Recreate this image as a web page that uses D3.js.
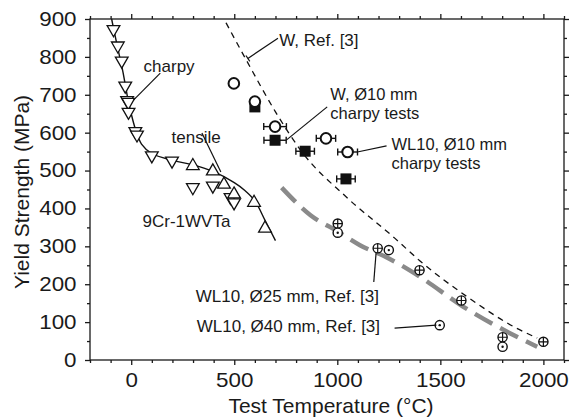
<!DOCTYPE html>
<html>
<head>
<meta charset="utf-8">
<script src="https://cdn.jsdelivr.net/npm/d3@7"></script>
<style>
  body { margin: 0; background: #fff; }
  svg { display: block; font-family: 'Liberation Sans', Arial, sans-serif; }
  .axis path, .axis line { stroke: #1a1a1a; stroke-width: 1.3; }
  .axis text { fill: #1a1a1a; font-size: 20px; }
  .note { fill: #1a1a1a; font-size: 17px; }
</style>
</head>
<body>
<svg id="chart"></svg>
<script>
// 9Cr-1WVTa, charpy (down triangles) and tensile (up triangles)
const charpy9Cr = [[-86, 870], [-65, 827], [-46, 787], [-29, 721], [-20, 683], [-14, 678],
  [-13, 652], [20, 601], [28, 592], [100, 537], [198, 523], [299, 453], [396, 457], [482, 427], [499, 413]];
const tensile9Cr = [[299, 515], [396, 501], [450, 466], [499, 440], [596, 418], [649, 350]];
const fit9Cr = [[-95, 900], [-80, 860], [-60, 810], [-40, 760], [-20, 700], [0, 650], [20, 610],
  [50, 570], [100, 545], [200, 527], [300, 515], [400, 497], [500, 468], [550, 448], [600, 420],
  [650, 368], [700, 315]];

// W, Ref. [3] (thin dashed)
const wRef = [[460, 890], [560, 790], [700, 655], [830, 548], [1040, 432], [1280, 321],
  [1400, 262], [1630, 167], [1870, 84], [1970, 58]];
// WL10 fit (thick grey dashed)
const wl10Fit = [[730, 455], [870, 382], [1000, 340], [1110, 303], [1250, 268], [1400, 220],
  [1610, 141], [1840, 70], [1970, 35]];

// charpy tests, [T, YS, half-width of error bar]
const wCharpy = [[600, 668, 0], [698, 580, 54], [844, 551, 45], [1042, 478, 45]];
const wl10Charpy = [[498, 730, 0], [600, 682, 0], [698, 616, 55], [945, 585, 47], [1050, 549, 48]];

// WL10 plates from Ref. [3]
const wl10d25 = [[1002, 360], [1196, 295], [1399, 237], [1602, 157], [1802, 60], [2000, 48]];
const wl10d40 = [[1002, 336], [1250, 290], [1497, 92], [1802, 35]];

const xTicks = [0, 500, 1000, 1500, 2000];
const yTicks = [0, 100, 200, 300, 400, 500, 600, 700, 800, 900];

const width = 570, height = 418;
const margin = { top: 19, right: 6, bottom: 58, left: 90 };
const w = width - margin.left - margin.right;
const h = height - margin.top - margin.bottom;

const svg = d3.select('#chart').attr('width', width).attr('height', height);
const g = svg.append('g').attr('transform', `translate(${margin.left},${margin.top})`);

const x = d3.scaleLinear().domain([-200, 2100]).range([0, w]);
const y = d3.scaleLinear().domain([0, 900]).range([h, 0]);

const TXT_SX = 1.12; // reference font runs a little wide
const fmt = d3.format('d');

// axes: major + minor ticks on all four sides, pointing out
function drawAxes() {
  const xMinor = d3.range(-200, 2101, 100).filter(d => d % 500 !== 0);
  const yMinor = d3.range(50, 900, 100);

  g.append('g').attr('class', 'axis').attr('transform', `translate(0,${h})`)
    .call(d3.axisBottom(x).tickValues(xTicks).tickSize(5).tickPadding(8).tickFormat(fmt));
  g.append('g').attr('class', 'axis').attr('transform', `translate(0,${h})`)
    .call(d3.axisBottom(x).tickValues(xMinor).tickSize(3).tickFormat(''));
  g.append('g').attr('class', 'axis')
    .call(d3.axisTop(x).tickValues(xTicks).tickSize(5).tickFormat(''));
  g.append('g').attr('class', 'axis')
    .call(d3.axisTop(x).tickValues(xMinor).tickSize(3).tickFormat(''));

  g.append('g').attr('class', 'axis')
    .call(d3.axisLeft(y).tickValues(yTicks).tickSize(5).tickPadding(7).tickFormat(fmt));
  g.append('g').attr('class', 'axis')
    .call(d3.axisLeft(y).tickValues(yMinor).tickSize(3).tickFormat(''));
  g.append('g').attr('class', 'axis').attr('transform', `translate(${w},0)`)
    .call(d3.axisRight(y).tickValues(yTicks).tickSize(5).tickFormat(''));
  g.append('g').attr('class', 'axis').attr('transform', `translate(${w},0)`)
    .call(d3.axisRight(y).tickValues(yMinor).tickSize(3).tickFormat(''));

  g.selectAll('.axis .domain').attr('d', null);
  g.append('rect').attr('width', w).attr('height', h)
    .attr('fill', 'none').attr('stroke', '#1a1a1a').attr('stroke-width', 1.3);

  g.selectAll('.axis text').attr('transform', `scale(${TXT_SX},1)`);

  svg.append('text').attr('class', 'note')
    .attr('transform', `translate(${margin.left + w / 2 + 4},413)`)
    .attr('text-anchor', 'middle').style('font-size', '21px')
    .text('Test Temperature (°C)');
  svg.append('text').attr('class', 'note')
    .attr('transform', `translate(29,${margin.top + 173}) rotate(-90)`)
    .attr('text-anchor', 'middle').style('font-size', '21px')
    .text('Yield Strength (MPa)');
}

function drawLines() {
  const line = d3.line().x(d => x(d[0])).y(d => y(d[1])).curve(d3.curveMonotoneX);

  g.append('path').datum(wl10Fit).attr('d', line)
    .attr('fill', 'none').attr('stroke', '#8a8a8a').attr('stroke-width', 4.5)
    .attr('stroke-dasharray', '20,9');
  g.append('path').datum(wRef).attr('d', line)
    .attr('fill', 'none').attr('stroke', '#111').attr('stroke-width', 1.3)
    .attr('stroke-dasharray', '6,5');
  g.append('path').datum(fit9Cr).attr('d', d3.line().x(d => x(d[0])).y(d => y(d[1])).curve(d3.curveCatmullRom))
    .attr('fill', 'none').attr('stroke', '#111').attr('stroke-width', 1.4);
}

function drawMarkers() {
  const tri = d3.symbol().type(d3.symbolTriangle).size(70);

  g.append('g').selectAll('path').data(charpy9Cr).join('path')
    .attr('d', tri)
    .attr('transform', d => `translate(${x(d[0])},${y(d[1]) - 1}) rotate(180)`)
    .attr('fill', '#fff').attr('stroke', '#111').attr('stroke-width', 1.3);
  g.append('g').selectAll('path').data(tensile9Cr).join('path')
    .attr('d', tri)
    .attr('transform', d => `translate(${x(d[0])},${y(d[1]) + 1})`)
    .attr('fill', '#fff').attr('stroke', '#111').attr('stroke-width', 1.3);

  // error bars for charpy tests
  const errs = wCharpy.concat(wl10Charpy).filter(d => d[2] > 0);
  const eb = g.append('g').attr('stroke', '#111').attr('stroke-width', 1.4);
  eb.selectAll('line.bar').data(errs).join('line').attr('class', 'bar')
    .attr('x1', d => x(d[0] - d[2])).attr('x2', d => x(d[0] + d[2]))
    .attr('y1', d => y(d[1])).attr('y2', d => y(d[1]));
  eb.selectAll('line.capl').data(errs).join('line').attr('class', 'capl')
    .attr('x1', d => x(d[0] - d[2])).attr('x2', d => x(d[0] - d[2]))
    .attr('y1', d => y(d[1]) - 3.5).attr('y2', d => y(d[1]) + 3.5);
  eb.selectAll('line.capr').data(errs).join('line').attr('class', 'capr')
    .attr('x1', d => x(d[0] + d[2])).attr('x2', d => x(d[0] + d[2]))
    .attr('y1', d => y(d[1]) - 3.5).attr('y2', d => y(d[1]) + 3.5);

  g.append('g').selectAll('rect').data(wCharpy).join('rect')
    .attr('x', d => x(d[0]) - 5.5).attr('y', d => y(d[1]) - 5.5)
    .attr('width', 11).attr('height', 11).attr('fill', '#111');
  g.append('g').selectAll('circle').data(wl10Charpy).join('circle')
    .attr('cx', d => x(d[0])).attr('cy', d => y(d[1])).attr('r', 5.3)
    .attr('fill', '#fff').attr('stroke', '#111').attr('stroke-width', 2);

  // WL10 plates: circle with cross / circle with dot
  const d25 = g.append('g').selectAll('g').data(wl10d25).join('g')
    .attr('transform', d => `translate(${x(d[0])},${y(d[1])})`);
  d25.append('circle').attr('r', 4.6).attr('fill', '#fff').attr('stroke', '#111').attr('stroke-width', 1.4);
  d25.append('path').attr('d', 'M-4.6,0H4.6M0,-4.6V4.6').attr('stroke', '#111').attr('stroke-width', 1.2);

  const d40 = g.append('g').selectAll('g').data(wl10d40).join('g')
    .attr('transform', d => `translate(${x(d[0])},${y(d[1])})`);
  d40.append('circle').attr('r', 4.6).attr('fill', '#fff').attr('stroke', '#111').attr('stroke-width', 1.4);
  d40.append('circle').attr('r', 1.2).attr('fill', '#111');
}

// labels and leader lines, positions in data units
const leaders = [
  [[712, 849], [566, 796]],
  [[951, 668], [754, 581]],
  [[1239, 565], [1097, 549]],
  [[1188, 282], [1177, 206]],
  [[1278, 84], [1481, 92]],
  [[141, 757], [11, 686]],
  [[343, 599], [435, 496]]
];
// [T, YS, text, font size]
const labels = [
  [60, 761, 'charpy', 17],
  [196, 573, 'tensile', 17],
  [55, 351, '9Cr-1WVTa', 17],
  [718, 829, 'W, Ref. [3]', 17],
  [966, 685, 'W, Ø10 mm', 16.5],
  [966, 637, 'charpy tests', 16.5],
  [1263, 553, 'WL10, Ø10 mm', 16.5],
  [1263, 505, 'charpy tests', 16.5],
  [313, 154, 'WL10, Ø25 mm, Ref. [3]', 17],
  [318, 75, 'WL10, Ø40 mm, Ref. [3]', 17]
];

function drawNotes() {
  g.append('g').selectAll('line').data(leaders).join('line')
    .attr('x1', d => x(d[0][0])).attr('y1', d => y(d[0][1]))
    .attr('x2', d => x(d[1][0])).attr('y2', d => y(d[1][1]))
    .attr('stroke', '#111').attr('stroke-width', 1.2);

  // small cross-bar at the end of the W, Ref. [3] leader
  const a = leaders[0];
  const dx = x(a[1][0]) - x(a[0][0]), dy = y(a[1][1]) - y(a[0][1]);
  const len = Math.hypot(dx, dy), px = -dy / len * 3.5, py = dx / len * 3.5;
  g.append('line')
    .attr('x1', x(a[1][0]) - px).attr('y1', y(a[1][1]) - py)
    .attr('x2', x(a[1][0]) + px).attr('y2', y(a[1][1]) + py)
    .attr('stroke', '#111').attr('stroke-width', 1.2);

  g.append('g').selectAll('text').data(labels).join('text')
    .attr('class', 'note')
    .attr('x', d => x(d[0])).attr('y', d => y(d[1]))
    .style('font-size', d => d[3] + 'px')
    .text(d => d[2]);
}

drawAxes();
drawLines();
drawMarkers();
drawNotes();
</script>
</body>
</html>
